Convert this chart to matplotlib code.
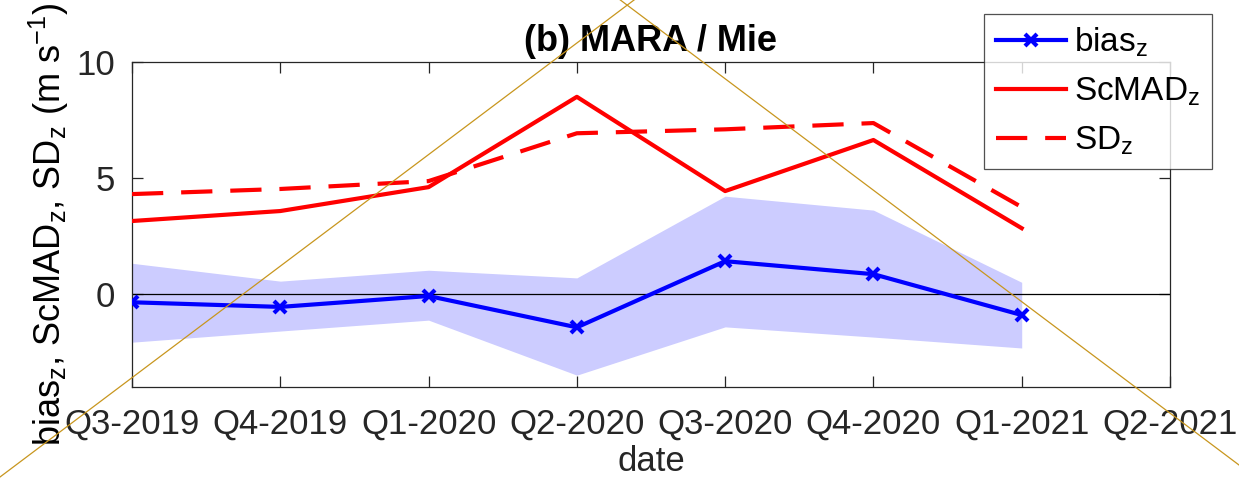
import matplotlib.pyplot as plt
import numpy as np
from matplotlib.lines import Line2D

plt.rcParams['font.family'] = ['Liberation Sans', 'DejaVu Sans']
plt.rcParams['mathtext.fontset'] = 'custom'
plt.rcParams['mathtext.rm'] = 'Liberation Sans'
plt.rcParams['mathtext.it'] = 'Liberation Sans'

quarters = ["Q3-2019", "Q4-2019", "Q1-2020", "Q2-2020", "Q3-2020", "Q4-2020", "Q1-2021", "Q2-2021"]
bias = [-0.35, -0.55, -0.08, -1.43, 1.42, 0.86, -0.9]
band_hi = [1.33, 0.56, 1.03, 0.7, 4.22, 3.62, 0.51]
band_lo = [-2.07, -1.59, -1.12, -3.49, -1.41, -1.85, -2.32]
scmad = [3.15, 3.58, 4.61, 8.5, 4.44, 6.64, 2.84]
sd = [4.31, 4.53, 4.87, 6.93, 7.1, 7.37, 3.75]

x = np.arange(len(bias))
grey = '#262626'

fig = plt.figure(figsize=(12.39, 4.9), dpi=100)
ax = fig.add_axes([132/1239, 1-387/490, (1170-132)/1239, (387-62)/490])

ax.fill_between(x, band_lo, band_hi, color=(0.8, 0.8, 1.0), lw=0, zorder=1)
ax.axhline(0, color='k', lw=0.9, zorder=2)
ax.plot(x, bias, color='b', lw=3, marker='x', ms=9, mew=3, label='bias$_z$', zorder=4)
ax.plot(x, scmad, color='r', lw=3, label='ScMAD$_z$', zorder=3)
ax.plot(x, sd, color='r', lw=3, dashes=(7.5, 4.3), label='SD$_z$', zorder=3)

ax.set_xlim(0, len(quarters) - 1)
ax.set_ylim(-4, 10)
ax.set_xticks(np.arange(len(quarters)))
ax.set_xticklabels(quarters)
ax.set_yticks([0, 5, 10])
ax.tick_params(direction='in', length=8, width=0.9, colors=grey, labelsize=25,
               top=True, right=True, pad=12)
ax.tick_params(axis='x', pad=15)
for s in ax.spines.values():
    s.set_color(grey)
    s.set_linewidth(0.9)

ax.set_xlabel('date', fontsize=25, color=grey, labelpad=3)
ax.set_ylabel('bias$_z$, ScMAD$_z$, SD$_z$ (m s$^{-1}$)', fontsize=26, color='k', labelpad=4)
ax.set_title('(b) MARA / Mie', fontsize=26, fontweight='bold', pad=8)

leg = ax.legend(loc='upper left', bbox_to_anchor=(984/1239, 1-14/490), bbox_transform=fig.transFigure,
                fontsize=24, frameon=True, fancybox=False, edgecolor=grey, handlelength=2.1,
                handletextpad=0.25, borderpad=0.35, borderaxespad=0, labelspacing=0.5, numpoints=1)
leg.get_frame().set_linewidth(0.9)

# gold crossing lines over the figure
fig.add_artist(Line2D([0, 650/1239], [1-477/490, 1+12/490], transform=fig.transFigure,
                      color='#c8961e', lw=0.9))
fig.add_artist(Line2D([600/1239, 1], [1+15.3/490, 1-465/490], transform=fig.transFigure,
                      color='#c8961e', lw=0.9))

fig.savefig('out.png', dpi=100)
